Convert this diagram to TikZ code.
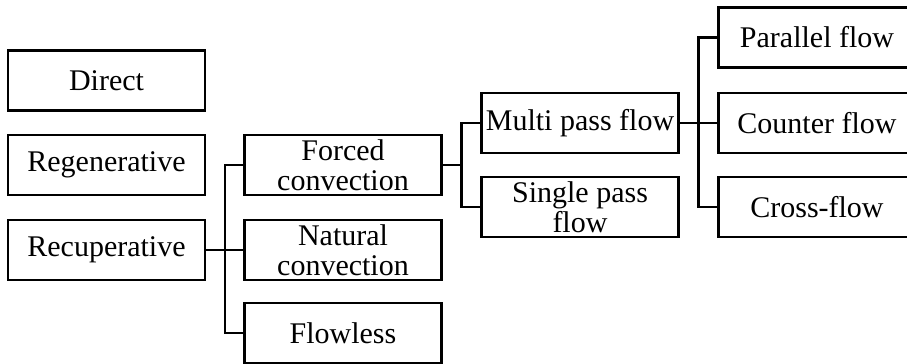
\documentclass[tikz,border=0pt]{standalone}
\usepackage{fontspec}
\setmainfont{Liberation Serif}
\usetikzlibrary{calc}
\begin{document}
\begin{tikzpicture}[x=0.5pt,y=-0.5pt,
  box/.style={draw=black,line width=1.1pt,minimum width=98.5pt,minimum height=30pt,
    inner sep=0pt,align=center,font=\fontsize{15}{15}\selectfont},
  link/.style={draw=black,line width=1.1pt}]
\useasboundingbox (0,0) rectangle (907,364);
\clip (0,0) rectangle (907,364);
% first level
\node[box] (direct) at (106.5,80.5) {Direct};
\node[box] (regen)  at (106.5,165) {Regenerative};
\node[box] (recup)  at (106.5,250) {Recuperative};
% second level
\node[box] (forced) at (343,165) {Forced\\convection};
\node[box] (natural) at (343,250) {Natural\\convection};
\node[box] (flowless) at (343,333) {Flowless};
% third level
\node[box] (multi)  at (580,123) {Multi pass flow};
\node[box] (single) at (580,207) {Single pass\\flow};
% fourth level
\node[box] (parallel) at (817,37.5) {Parallel flow};
\node[box] (counter)  at (817,123) {Counter flow};
\node[box] (cross)    at (817,207) {Cross-flow};
% branch points
\coordinate (b1) at ($(recup.east)!0.5!(natural.west)$);
\coordinate (b2) at ($(forced.east)!0.5!(forced.east -| multi.west)$);
\coordinate (b3) at ($(multi.east)!0.5!(counter.west)$);
% connectors
\draw[link] (recup.east) -- (natural.west);
\draw[link] (forced.west) -| (b1) |- (flowless.west);
\draw[link] (forced.east) -- (b2);
\draw[link] (multi.west) -| (b2) |- (single.west);
\draw[link] (multi.east) -- (counter.west);
\draw[link] (parallel.west) -| (b3) |- (cross.west);
\end{tikzpicture}
\end{document}
